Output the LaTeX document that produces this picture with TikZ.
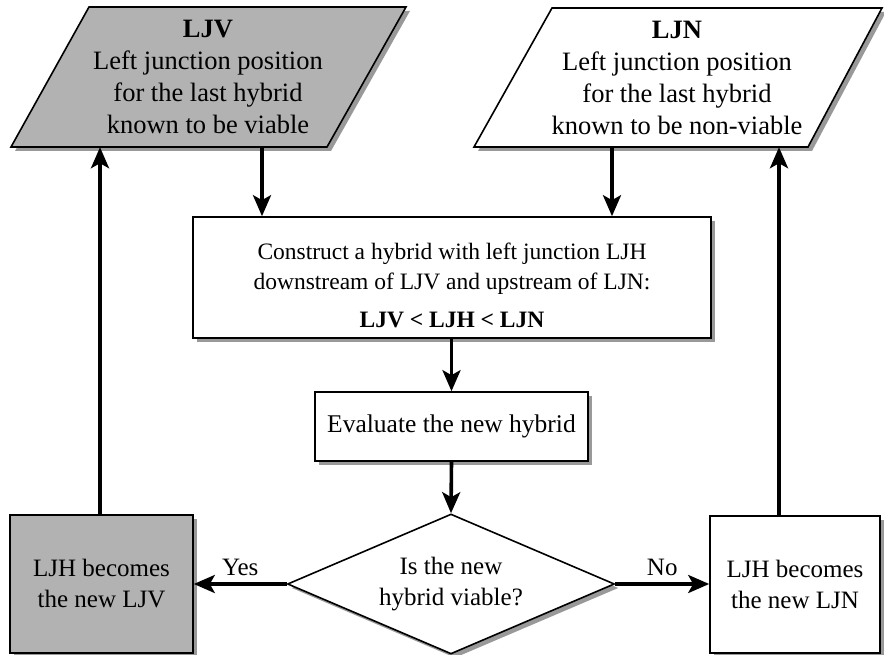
\documentclass[tikz,border=0pt]{standalone}
\usepackage{fontspec}
\setmainfont{Liberation Serif}
\usetikzlibrary{arrows.meta,shapes.geometric,shadows}
\begin{document}
\begin{tikzpicture}[x=1pt,y=-1pt,
  txt/.style={font=\fontsize{25}{31}\selectfont, align=center, inner sep=0pt},
  ptxt/.style={txt, font=\fontsize{26.5}{32}\selectfont},
  arr/.style={line width=3.6pt, -{Stealth[length=21pt,width=18pt,inset=5pt]}},
  shad/.style={drop shadow={shadow xshift=4pt,shadow yshift=-4pt,fill=black!40,opacity=1}},
  edge/.style={draw=black, line width=1.6pt},
  wbox/.style={edge, fill=white, shad},
  gbox/.style={edge, fill=black!30, shad}]
\useasboundingbox (0,0) rectangle (884,655);

% parallelograms (drawn shapes) and their text nodes
\path[gbox] (89,7) -- (406,7) -- (327,147) -- (11,147) -- cycle;
\node[ptxt, minimum height=140pt] (ljv) at (208,77)
  {\textbf{LJV}\\Left junction position\\for the last hybrid\\known to be viable};

\path[wbox] (552,8) -- (882,8) -- (808,147) -- (474,147) -- cycle;
\node[ptxt, minimum height=139pt] (ljn) at (677,77.5)
  {\textbf{LJN}\\Left junction position\\for the last hybrid\\known to be non-viable};

% process boxes
\node[wbox, txt, font=\fontsize{23.5}{30}\selectfont, minimum width=518pt, minimum height=121pt] (construct) at (452,277.5)
  {\rule{0pt}{33pt}Construct a hybrid with left junction LJH\\downstream of LJV and upstream of LJN:\\[8pt]\textbf{LJV < LJH < LJN}};

\node[wbox, txt, font=\fontsize{25.5}{31}\selectfont, minimum width=273pt, minimum height=69pt] (eval) at (451.5,426.5) {Evaluate the new hybrid};

\node[wbox, txt, diamond, aspect=2.3, minimum width=327pt, minimum height=140pt] (dec) at (451,584)
  {Is the new\\hybrid viable?};

\node[gbox, txt, minimum width=183pt, minimum height=138pt] (ljvbox) at (101.5,584) {LJH becomes\\the new LJV};
\node[wbox, txt, minimum width=170pt, minimum height=137pt] (ljnbox) at (795,584.5) {LJH becomes\\the new LJN};

% connectors
\draw[arr] ([xshift=54pt]ljv.south) -- ([xshift=54pt]ljv.south |- construct.north);
\draw[arr] ([xshift=-65pt]ljn.south) -- ([xshift=-65pt]ljn.south |- construct.north);
\draw[arr] (construct.south -| eval.north) -- (eval.north);
\draw[arr] (eval.south) -- (dec.north);
\draw[arr] (dec.west) -- node[txt, above=6pt] {Yes} (ljvbox.east |- dec.west);
\draw[arr] (dec.east) -- node[txt, above=6pt] {No} (ljnbox.west |- dec.east);
\draw[arr] ([xshift=-1.5pt]ljvbox.north) -- ([xshift=-1.5pt]ljvbox.north |- ljv.south);
\draw[arr] ([xshift=-16pt]ljnbox.north) -- ([xshift=-16pt]ljnbox.north |- ljn.south);
\end{tikzpicture}
\end{document}
